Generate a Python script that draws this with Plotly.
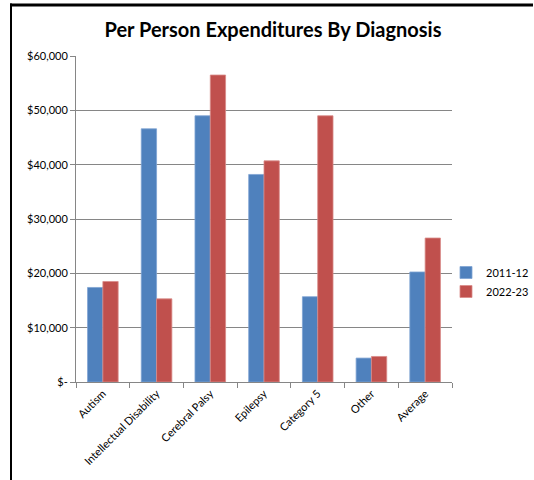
import plotly.graph_objects as go

categories = ["Autism", "Intellectual Disability", "Cerebral Palsy", "Epilepsy",
              "Category 5", "Other", "Average"]
series_2011 = [17400, 46600, 49000, 38200, 15700, 4400, 20250]
series_2022 = [18500, 15300, 56500, 40700, 49000, 4700, 26500]
tick_vals = [0, 10000, 20000, 30000, 40000, 50000, 60000]
tick_text = ["$-", "$10,000", "$20,000", "$30,000", "$40,000", "$50,000", "$60,000"]

FONT = "Lato, 'Open Sans', sans-serif"

fig = go.Figure()
fig.add_trace(go.Bar(name="2011-12", x=categories, y=series_2011,
                     marker=dict(color="#4F81BD", line=dict(color="#7FA3D3", width=0.8))))
fig.add_trace(go.Bar(name="2022-23", x=categories, y=series_2022,
                     marker=dict(color="#C0504D", line=dict(color="#D98B89", width=0.8))))

W, H = 534, 480
L, R, T, B = 76, 452, 56, 382
pw, ph = R - L, B - T

def px(x):
    return (x - L) / pw

def py(y):
    return (B - y) / ph

fig.update_layout(
    width=W, height=H,
    margin=dict(l=L, r=W - R, t=T, b=H - B, pad=0, autoexpand=False),
    paper_bgcolor="white", plot_bgcolor="white",
    barmode="group", bargap=0.43, bargroupgap=0,
    font=dict(family=FONT, size=11, color="#000000"),
    title=dict(text="<b>Per Person Expenditures By Diagnosis</b>",
               x=273 / W, xanchor="center", y=1 - 30 / H, yanchor="middle",
               font=dict(family=FONT, size=20, color="#000000")),
    showlegend=True,
    legend=dict(x=px(446), xanchor="left", y=py(282), yanchor="middle",
                font=dict(family=FONT, size=11, color="#000000"),
                bgcolor="rgba(0,0,0,0)", tracegroupgap=0, itemwidth=30),
    xaxis=dict(showline=True, linecolor="#868686", linewidth=1,
               ticks="outside", ticklen=5, tickcolor="#868686",
               tickson="boundaries", tickangle=-45, automargin=False,
               tickfont=dict(family=FONT, size=11, color="#000000"),
               showgrid=False),
    yaxis=dict(range=[0, 60000], tickvals=tick_vals, ticktext=tick_text,
               showline=True, linecolor="#868686", linewidth=1,
               ticks="outside", ticklen=5, tickcolor="#868686", automargin=False,
               showgrid=True, gridcolor="#868686", gridwidth=1,
               tickfont=dict(family=FONT, size=11, color="#000000"),
               zeroline=False),
    shapes=[
        dict(type="rect", xref="paper", yref="paper", layer="above",
             x0=px(10), x1=px(533), y0=py(6.5), y1=py(3.5),
             fillcolor="#000000", line=dict(width=0)),
        dict(type="rect", xref="paper", yref="paper", layer="above",
             x0=px(10), x1=px(12), y0=py(480), y1=py(3.5),
             fillcolor="#000000", line=dict(width=0)),
    ],
)

fig.write_html("out.html", config={"displayModeBar": False},
               post_script="document.documentElement.style.overflow='hidden';document.body.style.margin='0';window.scrollTo(0,0);")
